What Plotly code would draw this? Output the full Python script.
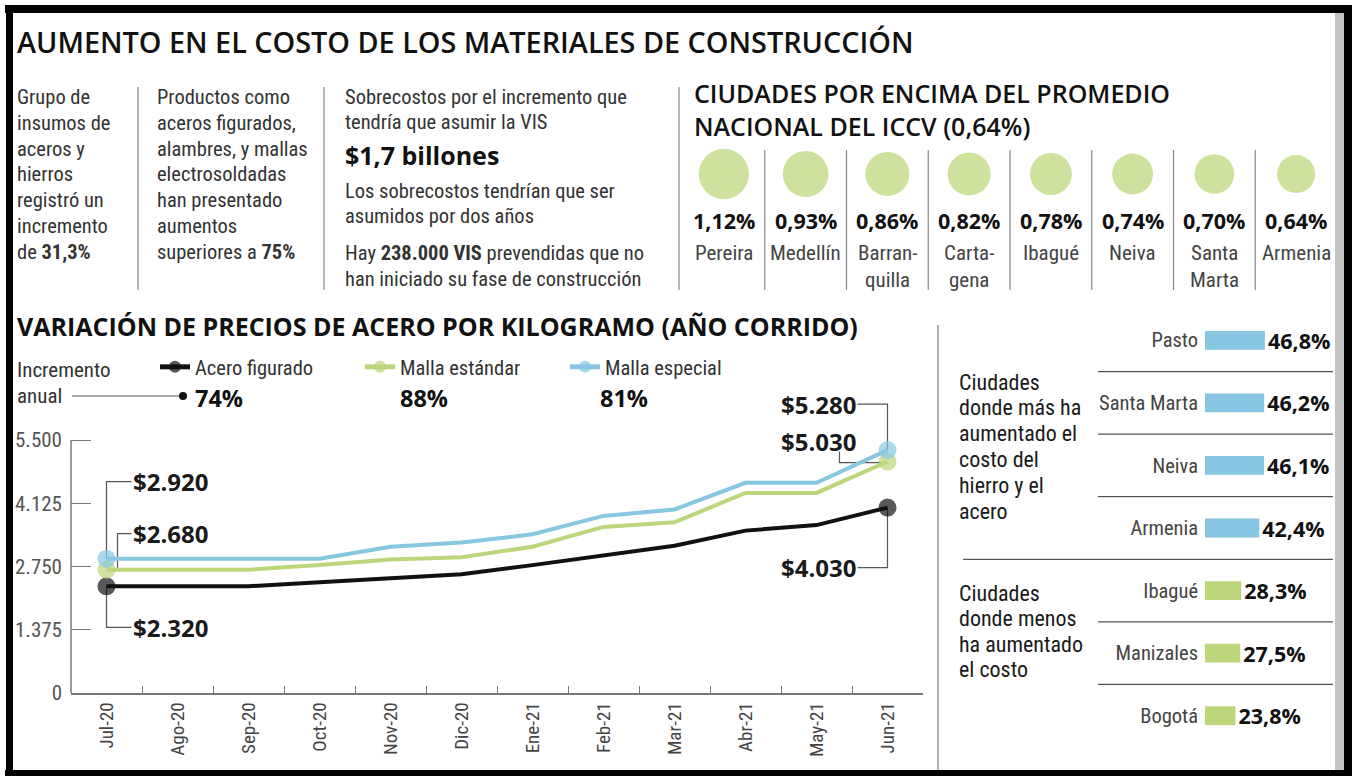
import math
import plotly.graph_objects as go

W, H = 1359, 776


def px(x):
    return x / W


def py(y):
    return 1 - y / H


# ---------------- DATA ----------------
months = ["Jul-20", "Ago-20", "Sep-20", "Oct-20", "Nov-20", "Dic-20",
          "Ene-21", "Feb-21", "Mar-21", "Abr-21", "May-21", "Jun-21"]
acero_figurado = [2320, 2320, 2320, 2410, 2500, 2580, 2780, 3000, 3200, 3530, 3650, 4030]
malla_estandar = [2680, 2680, 2680, 2780, 2900, 2950, 3180, 3610, 3710, 4350, 4350, 5030]
malla_especial = [2920, 2920, 2920, 2920, 3180, 3270, 3450, 3850, 3990, 4570, 4570, 5280]
series_names = ["Acero figurado", "Malla estándar", "Malla especial"]
incremento_anual = [74, 88, 81]
y_ticks = [0, 1375, 2750, 4125, 5500]
y_tick_text = ["0", "1.375", "2.750", "4.125", "5.500"]

iccv_cities = ["Pereira", "Medellín", "Barran-<br>quilla", "Carta-<br>gena",
               "Ibagué", "Neiva", "Santa<br>Marta", "Armenia"]
iccv_values = [1.12, 0.93, 0.86, 0.82, 0.78, 0.74, 0.70, 0.64]

bar_cities = ["Pasto", "Santa Marta", "Neiva", "Armenia", "Ibagué", "Manizales", "Bogotá"]
bar_values = [46.8, 46.2, 46.1, 42.4, 28.3, 27.5, 23.8]
bar_groups = ["mas", "mas", "mas", "mas", "menos", "menos", "menos"]

# ---------------- STYLE ----------------
COND = "Liberation Sans Narrow, Arial Narrow, Roboto Condensed, Roboto, sans-serif"
HEAD = "Open Sans, sans-serif"
BLACK = "#111111"
GREEN = "#bdd67b"
BLUE = "#87c7e2"
CIRCLE_GREEN = "#b9d474"
TXT = "#333333"
series_colors = [BLACK, GREEN, BLUE]
BODY = 20.5

# line chart geometry (pixels)
PLOT_L, PLOT_R, PLOT_B, TICK_TOP, PLOT_T = 71, 923, 693, 440, 390
Y_MAX = y_ticks[-1] * (PLOT_B - PLOT_T) / (PLOT_B - TICK_TOP)


def fmt_price(v):
    return "$" + f"{v:,}".replace(",", ".")


def fmt_pct(v, d):
    return f"{v:.{d}f}".replace(".", ",") + "%"


fig = go.Figure()

# ---- line chart ----
for name, vals, col in zip(series_names, [acero_figurado, malla_estandar, malla_especial], series_colors):
    sizes = [18] + [0] * (len(vals) - 2) + [18]
    fig.add_trace(go.Scatter(
        x=months, y=vals, name=name, mode="lines+markers",
        line=dict(color=col, width=4),
        marker=dict(size=sizes, color=col, line=dict(width=0)),
        cliponaxis=False, hoverinfo="x+y+name"))

# ---- ICCV circles ----
fig.add_trace(go.Scatter(
    x=list(range(len(iccv_values))), y=[0] * len(iccv_values), mode="markers",
    marker=dict(size=[38 * math.sqrt(v / min(iccv_values)) for v in iccv_values],
                color=CIRCLE_GREEN, line=dict(width=0)),
    xaxis="x2", yaxis="y2", showlegend=False, cliponaxis=False,
    text=[c.replace("<br>", "") for c in iccv_cities], hoverinfo="text"))

# ---- bars ----
group_colors = {"mas": BLUE, "menos": GREEN}
fig.add_trace(go.Bar(
    x=bar_values, y=bar_cities, orientation="h", xaxis="x3", yaxis="y3",
    marker=dict(color=[group_colors[g] for g in bar_groups], line=dict(width=0)),
    width=0.3, text=["<b>" + fmt_pct(v, 1) + "</b>" for v in bar_values],
    textposition="outside", constraintext="none", cliponaxis=False,
    textfont=dict(family=HEAD, size=21.5, color=BLACK), showlegend=False))

annotations = []
shapes = []


def txt(x, y, text, size=BODY, color=TXT, family=COND, weight=None,
        xanchor="left", yanchor="middle", align="left"):
    f = dict(family=family, size=size, color=color)
    if weight:
        f["weight"] = weight
    annotations.append(dict(xref="paper", yref="paper", x=px(x), y=py(y), text=text,
                            showarrow=False, font=f, xanchor=xanchor, yanchor=yanchor,
                            align=align))


def block(x, y0, dy, lines, **kw):
    for k, s in enumerate(lines):
        txt(x, y0 + k * dy, s, **kw)


def line(x0, y0, x1, y1, color="#888888", width=1.2):
    shapes.append(dict(type="line", xref="paper", yref="paper", x0=px(x0), y0=py(y0),
                       x1=px(x1), y1=py(y1), line=dict(color=color, width=width)))


def rect(x0, y0, x1, y1, color):
    shapes.append(dict(type="rect", xref="paper", yref="paper", x0=px(x0), y0=py(y0),
                       x1=px(x1), y1=py(y1), fillcolor=color, line=dict(width=0), layer="above"))


# ---- frame ----
rect(1335, 13, 1344, 770, "#c4c4c4")
rect(5, 5, 1352, 13, "#000000")
rect(6, 5, 13, 776, "#000000")
rect(1344, 5, 1352, 776, "#000000")
rect(5, 770, 1352, 776, "#000000")

# ---- titles ----
txt(15, 41, "AUMENTO EN EL COSTO DE LOS MATERIALES DE CONSTRUCCIÓN", size=28.8,
    color=BLACK, family=HEAD, weight=600)
txt(15, 326, "VARIACIÓN DE PRECIOS DE ACERO POR KILOGRAMO (AÑO CORRIDO)", size=25,
    color=BLACK, family=HEAD, weight=700)
txt(692, 110, "CIUDADES POR ENCIMA DEL PROMEDIO<br>NACIONAL DEL ICCV (0,64%)",
    size=25, color=BLACK, family=HEAD, weight=600)

# ---- top text columns ----
DY = 25.8
block(15, 97, DY, ["Grupo de", "insumos de", "aceros y", "hierros", "registró un",
                   "incremento", "de <b>31,3%</b>"])
line(138, 87, 138, 290)
block(155, 97, DY, ["Productos como", "aceros figurados,", "alambres, y mallas",
                    "electrosoldadas", "han presentado", "aumentos", "superiores a <b>75%</b>"])
line(324, 87, 324, 290)
block(343, 97, 25, ["Sobrecostos por el incremento que", "tendría que asumir la VIS"])
txt(343, 155, "$1,7 billones", size=25, color=BLACK, family=HEAD, weight=700)
block(343, 191, 25, ["Los sobrecostos tendrían que ser", "asumidos por dos años"])
block(343, 253, 26, ["Hay <b>238.000 VIS</b> prevendidas que no", "han iniciado su fase de construcción"])
line(679, 87, 679, 290)

# ---- ICCV labels ----
for i, (c, v) in enumerate(zip(iccv_cities, iccv_values)):
    annotations.append(dict(xref="x2", yref="paper", x=i, y=py(220.5), text="<b>" + fmt_pct(v, 2) + "</b>",
                            showarrow=False, font=dict(family=HEAD, size=21.5, color=BLACK),
                            xanchor="center", yanchor="middle"))
    for k, part in enumerate(c.split("<br>")):
        annotations.append(dict(xref="x2", yref="paper", x=i, y=py(253 + 27 * k), text=part,
                                showarrow=False, font=dict(family=COND, size=21, color="#444444"),
                                xanchor="center", yanchor="middle"))
    if i < len(iccv_values) - 1:
        shapes.append(dict(type="line", xref="x2", yref="paper", x0=i + 0.5, x1=i + 0.5,
                           y0=py(150), y1=py(290), line=dict(color="#888888", width=1.2)))

# ---- legend helper texts ----
txt(15, 370, "Incremento", size=21)
txt(15, 396, "anual", size=21)
line(72, 396, 180, 396, color="#555555", width=1)
shapes.append(dict(type="circle", xref="paper", yref="paper", x0=px(179), x1=px(187),
                   y0=py(392), y1=py(400), fillcolor=BLACK, line=dict(width=0)))
inc_x = [193, 398, 598]
for xx, v in zip(inc_x, incremento_anual):
    txt(xx, 398, f"<b>{v}%</b>", size=23.5, color=BLACK, family=HEAD)

# ---- y axis line (only up to top tick) ----
shapes.append(dict(type="line", xref="x domain", yref="y", x0=0, x1=0, y0=0, y1=y_ticks[-1],
                   line=dict(color="#777777", width=1.5)))

# ---- callouts for endpoints ----
all_series = [acero_figurado, malla_estandar, malla_especial]
callouts = [
    # series, point, path, xshift, yshift, xanchor
    (2, 0, "M0,0 V77 H25", 24, 77, "left"),
    (1, 0, "M11,0 V36 H25", 24, 36, "left"),
    (0, 0, "M0,0 V-41 H25", 24, -41, "left"),
    (2, -1, "M0,0 V46 H-30", -30, 46, "right"),
    (1, -1, "M0,-1 H-48 V10", -30, 20, "right"),
    (0, -1, "M0,0 V-60 H-30", -30, -60, "right"),
]
for s, p, path, xs, ys, xa in callouts:
    xv = months[p]
    yv = all_series[s][p]
    shapes.append(dict(type="path", xref="x", yref="y", xsizemode="pixel", ysizemode="pixel",
                       xanchor=xv, yanchor=yv, path=path, layer="below",
                       line=dict(color="#555555", width=1.2)))
    annotations.append(dict(xref="x", yref="y", x=xv, y=yv, xshift=xs, yshift=ys,
                            text="<b>" + fmt_price(yv) + "</b>", showarrow=False,
                            xanchor=xa, yanchor="middle",
                            font=dict(family=HEAD, size=24, color="#1a1a1a")))

# ---- right panel ----
line(938, 325, 938, 770, color="#999999", width=1.5)
block(957, 382, 25.8, ["Ciudades", "donde más ha", "aumentado el", "costo del", "hierro y el", "acero"],
      size=22, color="#1a1a1a")
block(957, 593, 25.5, ["Ciudades", "donde menos", "ha aumentado", "el costo"], size=22, color="#1a1a1a")
for i in range(len(bar_cities) - 1):
    long_sep = bar_groups[i] != bar_groups[i + 1]
    shapes.append(dict(type="line", xref="paper", yref="y3",
                       x0=px(963 if long_sep else 1098), x1=px(1333),
                       y0=i + 0.5, y1=i + 0.5, line=dict(color="#555555", width=1.2)))

fig.update_layout(
    width=W, height=H, margin=dict(l=0, r=0, t=0, b=0, autoexpand=False),
    paper_bgcolor="white", plot_bgcolor="rgba(0,0,0,0)",
    showlegend=True,
    legend=dict(orientation="h", x=px(155), y=py(347), xanchor="left", yanchor="top",
                entrywidth=160, entrywidthmode="pixels", itemsizing="constant",
                font=dict(family=COND, size=20.5, color=TXT), bgcolor="rgba(0,0,0,0)",
                traceorder="normal"),
    xaxis=dict(domain=[px(PLOT_L), px(PLOT_R)], type="category", range=[-0.5, 11.5],
               tickson="boundaries", ticks="inside", ticklen=7, tickcolor="#777777",
               showline=True, linecolor="#777777", linewidth=1.5, tickangle=-90,
               tickfont=dict(family=COND, size=19, color="#444444"), automargin=False,
               showgrid=False, zeroline=False, fixedrange=True),
    yaxis=dict(domain=[py(PLOT_B), py(PLOT_T)], range=[0, Y_MAX], tickvals=y_ticks, ticktext=y_tick_text,
               ticks="inside", ticklen=20, tickcolor="#777777", showline=False,
               ticklabelstandoff=8, automargin=False,
               tickfont=dict(family=COND, size=21, color="#555555"),
               showgrid=False, zeroline=False, fixedrange=True),
    xaxis2=dict(domain=[px(683), px(1337)], range=[-0.5, 7.5], visible=False, fixedrange=True,
                anchor="y2", automargin=False),
    yaxis2=dict(domain=[py(200), py(148)], range=[-1, 1], visible=False, fixedrange=True,
                anchor="x2", automargin=False),
    xaxis3=dict(domain=[px(1205), px(1333)], range=[0, 100], visible=False, fixedrange=True,
                anchor="y3", automargin=False),
    yaxis3=dict(domain=[py(747), py(309)], type="category", categoryarray=bar_cities,
                range=[len(bar_cities) - 0.5, -0.5], showgrid=False, zeroline=False,
                showline=False, ticks="", ticklabelstandoff=6, anchor="x3", automargin=False,
                tickfont=dict(family=COND, size=20.5, color="#444444"), fixedrange=True),
    annotations=annotations, shapes=shapes,
)

fig.write_html("out.html", config={"displayModeBar": False},
               post_script="document.body.style.margin='0';document.body.style.overflow='hidden';")
